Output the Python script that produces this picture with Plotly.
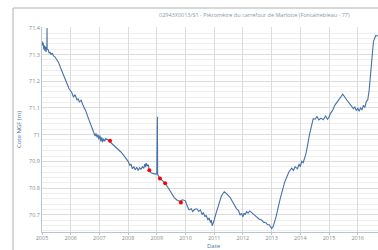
import plotly.graph_objects as go

# Series (decimal years, Cote NGF in m)
years = [
    2005.00, 2005.02, 2005.04, 2005.06, 2005.08, 2005.10, 2005.12, 2005.14, 2005.16, 2005.17, 2005.175, 2005.18,
    2005.22, 2005.25, 2005.28, 2005.32, 2005.36, 2005.40, 2005.45, 2005.52, 2005.58, 2005.65, 2005.72, 2005.80,
    2005.87, 2005.95, 2006.03, 2006.10, 2006.14, 2006.17, 2006.22, 2006.26, 2006.30, 2006.36, 2006.43, 2006.52,
    2006.62, 2006.72, 2006.80, 2006.85, 2006.88, 2006.92, 2006.95, 2006.98, 2007.02, 2007.05, 2007.08, 2007.11,
    2007.14, 2007.18, 2007.22, 2007.30, 2007.45, 2007.60, 2007.75, 2007.90, 2008.00, 2008.06, 2008.10, 2008.15,
    2008.20, 2008.25, 2008.30, 2008.35, 2008.40, 2008.45, 2008.50, 2008.55, 2008.58, 2008.61, 2008.63, 2008.67,
    2008.70, 2008.74, 2008.80, 2008.90, 2009.00, 2009.02, 2009.03, 2009.11, 2009.20, 2009.29, 2009.40, 2009.50,
    2009.60, 2009.70, 2009.80, 2009.90, 2010.00, 2010.05, 2010.12, 2010.20, 2010.25, 2010.32, 2010.40, 2010.46,
    2010.52, 2010.58, 2010.62, 2010.68, 2010.72, 2010.78, 2010.82, 2010.87, 2010.90, 2010.93, 2010.96, 2011.00,
    2011.05, 2011.15, 2011.25, 2011.35, 2011.42, 2011.55, 2011.62, 2011.70, 2011.78, 2011.85, 2011.90, 2011.95,
    2012.00, 2012.04, 2012.08, 2012.13, 2012.18, 2012.24, 2012.30, 2012.38, 2012.44, 2012.50, 2012.56, 2012.65,
    2012.72, 2012.80, 2012.86, 2012.92, 2012.97, 2013.00, 2013.05, 2013.15, 2013.30, 2013.45, 2013.60, 2013.65,
    2013.70, 2013.76, 2013.82, 2013.90, 2013.96, 2014.00, 2014.05, 2014.10, 2014.20, 2014.32, 2014.45, 2014.52,
    2014.58, 2014.65, 2014.72, 2014.80, 2014.88, 2014.95, 2015.00, 2015.05, 2015.12, 2015.20, 2015.28, 2015.35,
    2015.48, 2015.62, 2015.78, 2015.85, 2015.90, 2015.95, 2016.00, 2016.05, 2016.10, 2016.15, 2016.20, 2016.25,
    2016.30, 2016.35, 2016.40, 2016.48, 2016.55, 2016.63, 2016.70,
]
levels = [
    71.350, 71.335, 71.345, 71.320, 71.335, 71.315, 71.330, 71.310, 71.325, 71.330, 71.400, 71.320,
    71.318, 71.305, 71.310, 71.300, 71.306, 71.295, 71.292, 71.280, 71.270, 71.250, 71.230, 71.210,
    71.190, 71.170, 71.160, 71.140, 71.150, 71.145, 71.130, 71.135, 71.122, 71.130, 71.110, 71.090,
    71.060, 71.030, 71.010, 70.995, 71.005, 70.990, 71.000, 70.982, 70.997, 70.975, 70.990, 70.972,
    70.985, 70.975, 70.985, 70.980, 70.965, 70.950, 70.935, 70.915, 70.900, 70.885, 70.890, 70.872,
    70.880, 70.868, 70.878, 70.866, 70.876, 70.870, 70.880, 70.874, 70.890, 70.878, 70.893, 70.882,
    70.888, 70.867, 70.857, 70.853, 70.853, 71.067, 70.850, 70.836, 70.826, 70.818, 70.800, 70.780,
    70.765, 70.755, 70.750, 70.756, 70.752, 70.735, 70.718, 70.722, 70.712, 70.720, 70.722, 70.712,
    70.718, 70.700, 70.708, 70.692, 70.698, 70.680, 70.688, 70.670, 70.680, 70.658, 70.672, 70.680,
    70.700, 70.740, 70.770, 70.786, 70.780, 70.765, 70.752, 70.740, 70.722, 70.715, 70.698, 70.705,
    70.692, 70.706, 70.700, 70.712, 70.706, 70.714, 70.708, 70.700, 70.696, 70.690, 70.684, 70.680,
    70.672, 70.670, 70.662, 70.662, 70.650, 70.648, 70.655, 70.690, 70.760, 70.820, 70.860, 70.868,
    70.874, 70.866, 70.880, 70.872, 70.890, 70.880, 70.900, 70.895, 70.930, 71.000, 71.060, 71.058,
    71.068, 71.055, 71.062, 71.056, 71.070, 71.058, 71.066, 71.080, 71.090, 71.110, 71.122, 71.135,
    71.152, 71.130, 71.108, 71.098, 71.104, 71.090, 71.100, 71.088, 71.100, 71.094, 71.110, 71.102,
    71.125, 71.130, 71.168, 71.270, 71.350, 71.372, 71.370,
]

# Red highlighted measurements
mark_years = [2007.37, 2008.74, 2009.11, 2009.29, 2009.84]
mark_levels = [70.977, 70.867, 70.836, 70.818, 70.746]

tick_years = list(range(2005, 2017))
title_text = "02943X0013/S1 - Piézomètre du carrefour de Marlotte (Fontainebleau - 77)"

fig = go.Figure()
fig.add_trace(go.Scatter(x=years, y=levels, mode="lines",
                         line=dict(color="#4572A7", width=1.1), showlegend=False))
fig.add_trace(go.Scatter(x=mark_years, y=mark_levels, mode="markers",
                         marker=dict(color="#ff0000", size=4), showlegend=False))

font_family = "Open Sans, DejaVu Sans, sans-serif"

fig.update_layout(
    width=378, height=250,
    margin=dict(l=42, r=0, t=27, b=18),
    paper_bgcolor="white", plot_bgcolor="white",
    font=dict(family=font_family, size=6, color="#888888"),
    xaxis=dict(
        range=[2005, 2016.707], tickvals=tick_years, ticktext=[str(y) for y in tick_years],
        showgrid=True, gridcolor="#dcdcdc", gridwidth=1,
        showline=True, linecolor="#b8c4d0", linewidth=1,
        ticks="outside", ticklen=2, tickcolor="#b8c4d0", ticklabelstandoff=-2,
        tickfont=dict(size=5.5, color="#8a8a8a"),
        zeroline=False, automargin=False,
    ),
    yaxis=dict(
        range=[70.635, 71.4037], tickvals=[70.7, 70.8, 70.9, 71.0, 71.1, 71.2, 71.3, 71.4],
        ticktext=["70.7", "70.8", "70.9", "71", "71.1", "71.2", "71.3", "71.4"],
        showgrid=True, gridcolor="#dcdcdc", gridwidth=1,
        minor=dict(dtick=0.02, showgrid=True, gridcolor="#efefef", gridwidth=1),
        showline=True, linecolor="#b8c4d0", linewidth=1,
        ticks="", tickfont=dict(size=5.5, color="#8a8a8a"),
        title=dict(text="Cote NGF (m)", font=dict(size=6, color="#4d759e"), standoff=6),
        zeroline=False,
    ),
    shapes=[dict(type="rect", xref="paper", yref="paper",
                 x0=(13 - 42) / 336, x1=1.2, y0=-0.2, y1=(232 - 8) / 205,
                 line=dict(color="#b0b0b0", width=1), fillcolor="rgba(0,0,0,0)", layer="below")],
    annotations=[
        dict(text=title_text, xref="paper", yref="paper",
             x=(254 - 42) / 336, y=(232 - 15) / 205, xanchor="center", yanchor="middle",
             showarrow=False, font=dict(size=5.5, color="#8899aa")),
        dict(text="Date", xref="paper", yref="paper",
             x=(214 - 42) / 336, y=(232 - 246) / 205, xanchor="center", yanchor="middle",
             showarrow=False, font=dict(size=6, color="#4d759e")),
    ],
)

fig.write_html("out.html", config={"displayModeBar": False},
               post_script="document.body.style.margin='0';document.body.style.overflow='hidden';")
